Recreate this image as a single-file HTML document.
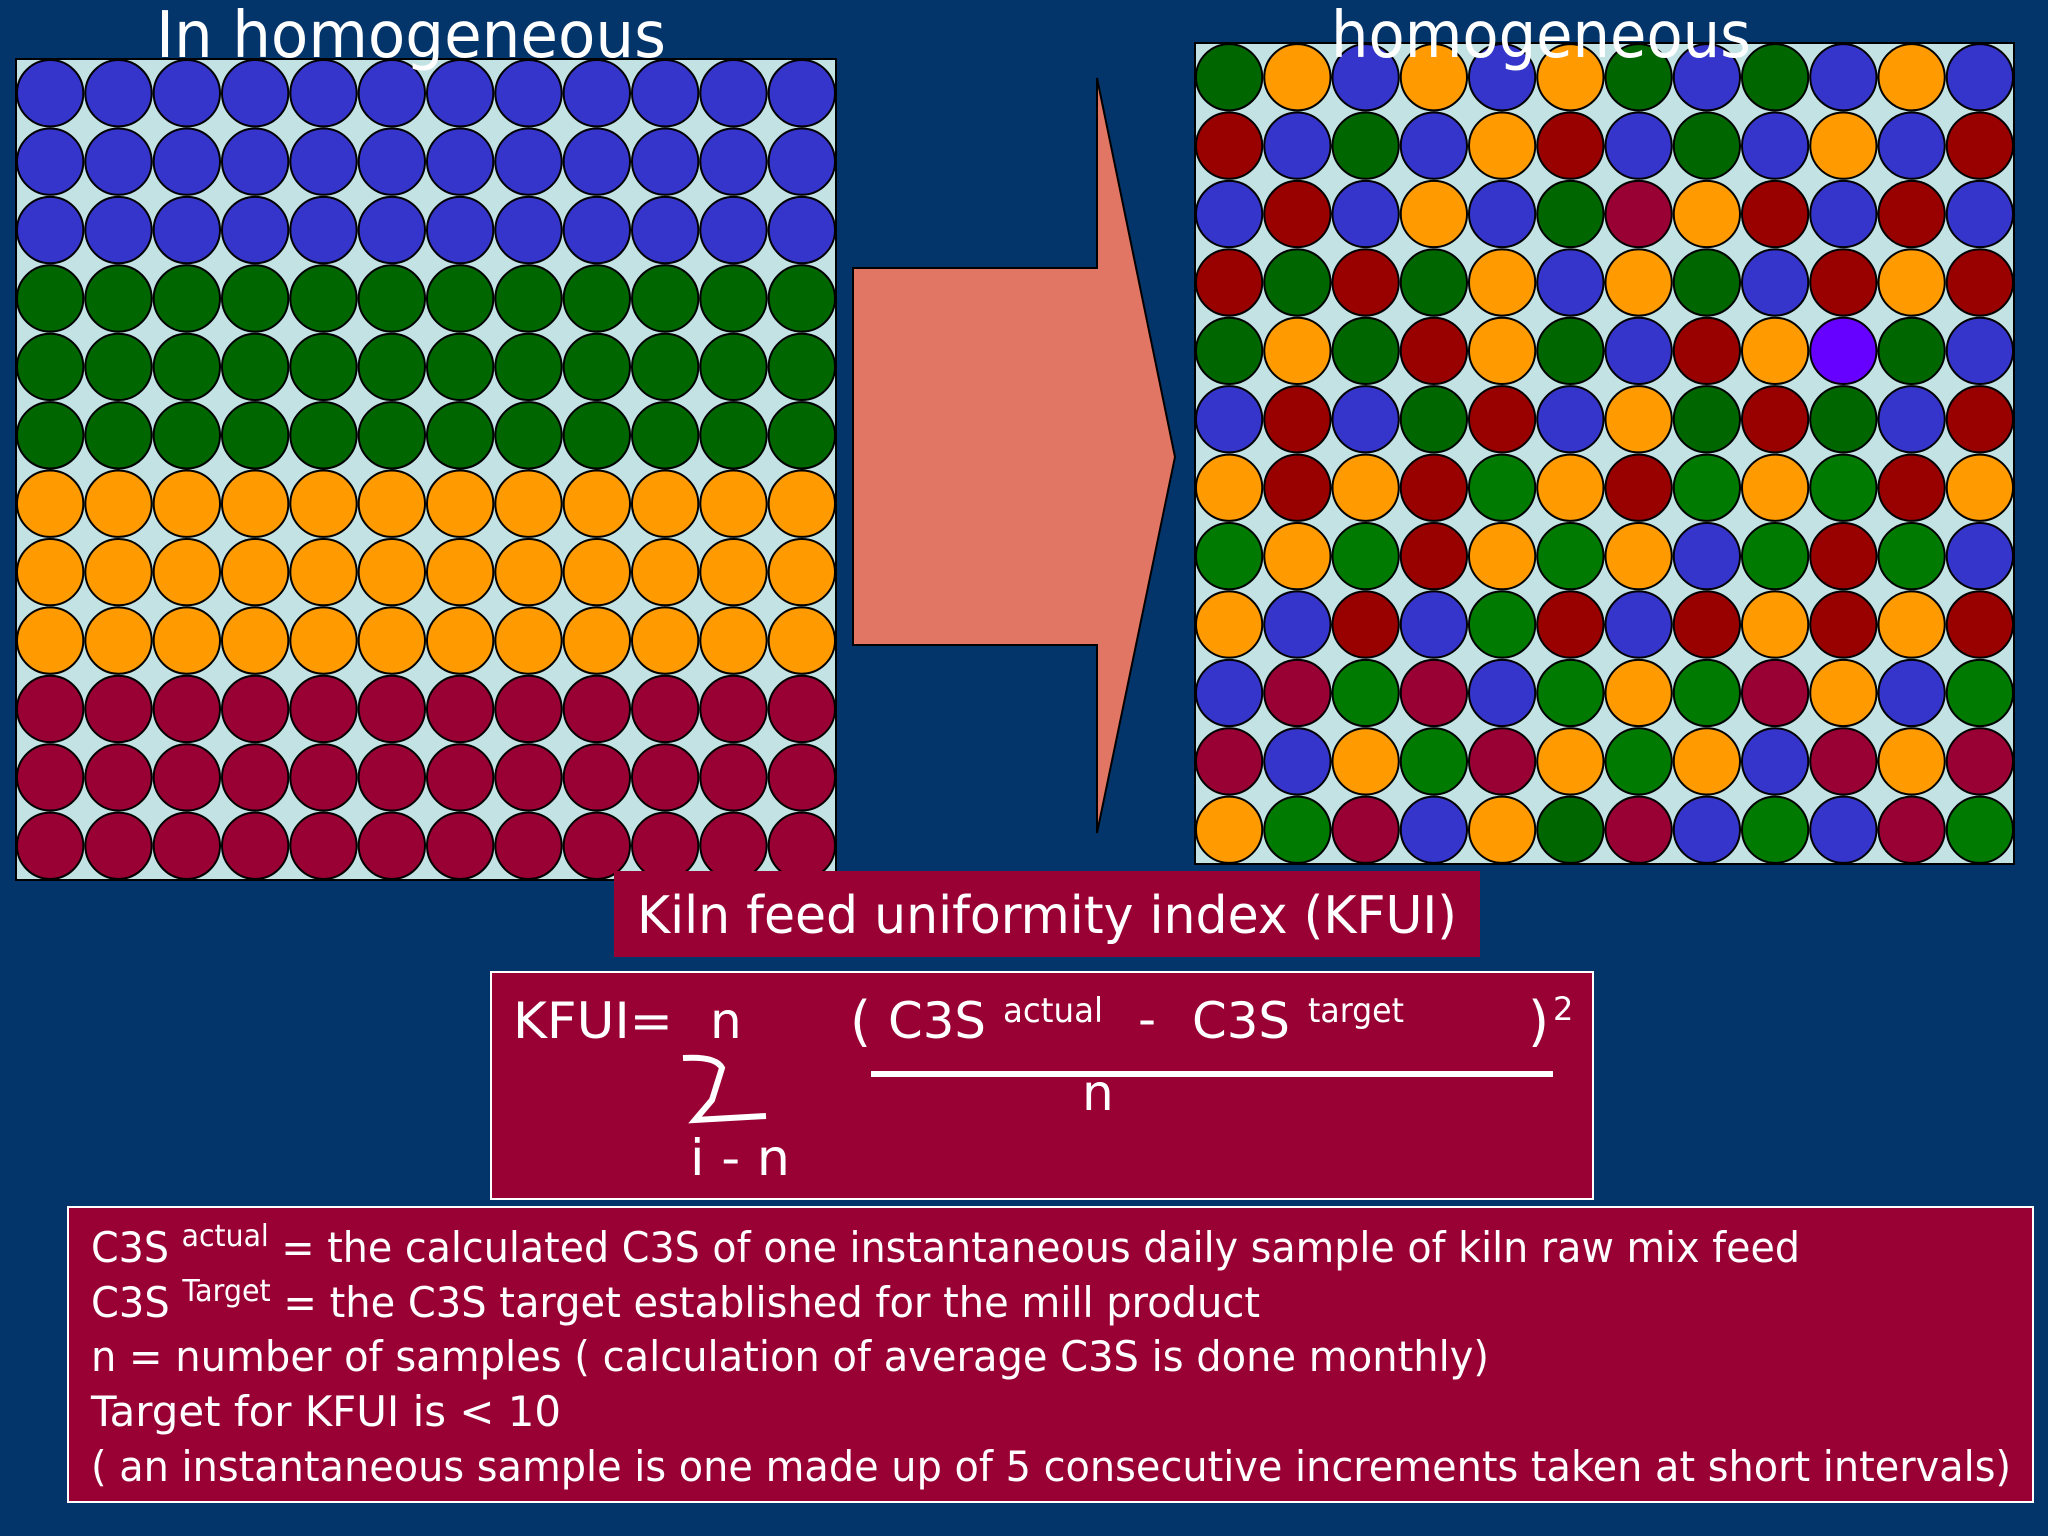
<!DOCTYPE html>
<html><head><meta charset="utf-8"><style>
html,body{margin:0;padding:0;background:#03346A;}
svg{display:block;font-family:"DejaVu Sans","Liberation Sans",sans-serif;}
</style></head><body>
<svg id="s" width="2048" height="1536" viewBox="0 0 2048 1536">
<rect x="0" y="0" width="2048" height="1536" fill="#03346A"/>
<rect x="16" y="59" width="820" height="821" fill="#C2E2E4" stroke="#000" stroke-width="2"/>
<rect x="1195" y="43" width="819" height="821" fill="#C2E2E4" stroke="#000" stroke-width="2"/>
<g id="left"></g>
<g id="right"></g>
<path d="M853,268 L1097,268 L1097,78 L1175,457 L1097,833 L1097,645 L853,645 Z" fill="#E27665" stroke="#000" stroke-width="2"/>
<text x="411" y="57" font-size="64" fill="#fff" text-anchor="middle" textLength="510" lengthAdjust="spacingAndGlyphs">In homogeneous</text>
<text x="1541" y="57" font-size="64" fill="#fff" text-anchor="middle" textLength="420" lengthAdjust="spacingAndGlyphs">homogeneous</text>

<rect x="614" y="871" width="866" height="86" fill="#990033"/>
<text x="1047" y="933" font-size="52" fill="#fff" text-anchor="middle" textLength="820" lengthAdjust="spacingAndGlyphs">Kiln feed uniformity index (KFUI)</text>

<rect x="491" y="972" width="1102" height="227" fill="#990033" stroke="#fff" stroke-width="2"/>
<g fill="#fff">
<text x="513" y="1038" font-size="50" textLength="160" lengthAdjust="spacingAndGlyphs">KFUI=</text>
<text x="710" y="1038" font-size="50">n</text>
<path d="M683,1058 Q716,1056 722,1068 L712,1100 L695,1120 L766,1116" fill="none" stroke="#fff" stroke-width="6"/>
<text x="690" y="1175" font-size="50" textLength="100" lengthAdjust="spacingAndGlyphs">i - n</text>
<text x="850" y="1040" font-size="54">(</text>
<text x="888" y="1038" font-size="50" textLength="98" lengthAdjust="spacingAndGlyphs">C3S</text>
<text x="1003" y="1022" font-size="34" textLength="100" lengthAdjust="spacingAndGlyphs">actual</text>
<text x="1138" y="1036" font-size="50">-</text>
<text x="1192" y="1038" font-size="50" textLength="98" lengthAdjust="spacingAndGlyphs">C3S</text>
<text x="1308" y="1022" font-size="34" textLength="96" lengthAdjust="spacingAndGlyphs">target</text>
<text x="1528" y="1040" font-size="54">)</text>
<text x="1553" y="1020" font-size="32">2</text>
<rect x="871" y="1071" width="682" height="6"/>
<text x="1082" y="1110" font-size="50">n</text>
</g>

<rect x="68" y="1207" width="1965" height="295" fill="#990033" stroke="#fff" stroke-width="2"/>
<g fill="#fff" font-size="42">
<text x="91" y="1262" textLength="1709" lengthAdjust="spacingAndGlyphs">C3S <tspan font-size="30" dy="-16">actual</tspan><tspan dy="16"> = the calculated C3S of one instantaneous daily sample of kiln raw mix feed</tspan></text>
<text x="91" y="1317" textLength="1169" lengthAdjust="spacingAndGlyphs">C3S <tspan font-size="30" dy="-16">Target</tspan><tspan dy="16"> = the C3S target established for the mill product</tspan></text>
<text x="91" y="1371" textLength="1398" lengthAdjust="spacingAndGlyphs">n = number of samples ( calculation of average C3S is done monthly)</text>
<text x="91" y="1426" textLength="470" lengthAdjust="spacingAndGlyphs">Target for KFUI is &lt; 10</text>
<text x="91" y="1481" textLength="1920" lengthAdjust="spacingAndGlyphs">( an instantaneous sample is one made up of 5 consecutive increments taken at short intervals)</text>
</g>
</svg>
<script>
const palette = {B:'#3535CC',G:'#006600',L:'#007A00',O:'#FF9A00',R:'#990000',M:'#990033',P:'#6600FF'};
const leftRows = ['BBBBBBBBBBBB','BBBBBBBBBBBB','BBBBBBBBBBBB','GGGGGGGGGGGG','GGGGGGGGGGGG','GGGGGGGGGGGG','OOOOOOOOOOOO','OOOOOOOOOOOO','OOOOOOOOOOOO','MMMMMMMMMMMM','MMMMMMMMMMMM','MMMMMMMMMMMM'];
const rightRows = ['GOBOBOGBGBOB','RBGBORBGBOBR','BRBOBGMORBRB','RGRGOBOGBROR','GOGROGBROPGB','BRBGRBOGRGBR','ORORLORLOLRO','LOLROLOBLRLB','OBRBLRBROROR','BMLMBLOLMOBL','MBOLMOLOBMOM','OLMBOGMBLBML'];
const NS='http://www.w3.org/2000/svg';
function drawGrid(gid, rows, x0, y0, w, h){
  const g=document.getElementById(gid);
  const cw=w/12, ch=h/rows.length;
  rows.forEach((row,r)=>{
    [...row].forEach((c,k)=>{
      const e=document.createElementNS(NS,'circle');
      e.setAttribute('cx',x0+cw*(k+0.5));
      e.setAttribute('cy',y0+ch*(r+0.5));
      e.setAttribute('r',Math.min(cw,ch)/2-1);
      e.setAttribute('fill',palette[c]);
      e.setAttribute('stroke','#000');
      e.setAttribute('stroke-width','2');
      
      
      g.appendChild(e);
    });
  });
}
drawGrid('left', leftRows, 16, 59, 820, 821);
drawGrid('right', rightRows, 1195, 43, 819, 821);
</script>
</body></html>
